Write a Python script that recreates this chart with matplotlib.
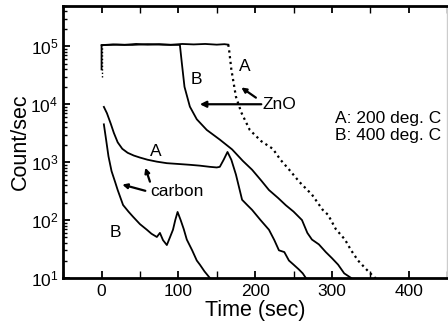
import numpy as np
import matplotlib.pyplot as plt

# ZnO, A: 200 deg. C  (flat plateau then dotted decay)
zno_a_rise_t = [0, 0]
zno_a_rise_y = [3.0e4, 1.05e5]
zno_a_flat_t = [0, 15, 30, 45, 60, 75, 90, 105, 120, 135, 150, 160, 165]
zno_a_flat_y = [1.05e5, 1.08e5, 1.06e5, 1.1e5, 1.07e5, 1.09e5, 1.06e5, 1.1e5, 1.08e5, 1.1e5, 1.07e5, 1.09e5, 1.07e5]
zno_a_decay_t = [165, 166, 169, 175, 182, 193, 208, 223, 233, 244, 258, 274, 288, 295, 305, 317, 325, 334, 345, 356, 362]
zno_a_decay_y = [1.07e5, 8.9e4, 4e4, 1.35e4, 7.2e3, 3.6e3, 2.3e3, 1.7e3, 1.1e3, 750, 450, 275, 150, 123, 70, 46, 30, 20, 14, 10, 10]

# ZnO, B: 400 deg. C
zno_b_t = [0, 0, 20, 40, 60, 80, 102, 104.5, 108, 115, 124, 137, 154, 170, 184, 196, 208, 218, 230, 240, 250, 261, 268, 274, 283, 292, 300, 308, 316, 325]
zno_b_y = [4e4, 1.05e5, 1.07e5, 1.06e5, 1.09e5, 1.07e5, 1.06e5, 5.2e4, 2.0e4, 9.1e3, 5.5e3, 3.6e3, 2.45e3, 1.66e3, 1.05e3, 740, 480, 330, 240, 180, 140, 100, 60, 46, 38, 28, 22, 17, 12, 10]

# carbon, A: 200 deg. C
carbon_a_t = [3, 7, 12, 16, 21, 27, 34, 42, 50, 60, 72, 85, 100, 115, 128, 141, 150, 154, 159, 164, 169, 175, 183, 190, 196, 207, 218, 225, 231, 238, 244, 250, 257, 262, 266]
carbon_a_y = [9e3, 7e3, 4.6e3, 3.2e3, 2.2e3, 1.7e3, 1.45e3, 1.3e3, 1.2e3, 1.1e3, 1.02e3, 960, 930, 900, 870, 830, 810, 830, 1.1e3, 1.5e3, 1.1e3, 610, 224, 180, 150, 100, 68, 45, 30, 28, 20, 17, 14, 12, 10]

# carbon, B: 400 deg. C
carbon_b_t = [3, 6, 9, 13, 18, 21, 28, 35, 41, 50, 59, 65, 72, 76, 80, 85, 89, 93, 96, 99, 103, 107, 111, 118, 124, 128, 134, 141]
carbon_b_y = [4.5e3, 2.4e3, 1.26e3, 700, 440, 330, 182, 140, 114, 85, 68, 58, 51, 60, 45, 37, 50, 68, 100, 138, 100, 70, 46, 30, 20, 17, 13, 10]

plt.rcParams['font.family'] = ['Liberation Sans', 'DejaVu Sans']
plt.rcParams['mathtext.fontset'] = 'custom'
plt.rcParams['mathtext.rm'] = 'Liberation Sans'
plt.rcParams['mathtext.it'] = 'Liberation Sans'
plt.rcParams['xtick.direction'] = 'in'
plt.rcParams['ytick.direction'] = 'in'

fig = plt.figure(figsize=(4.48, 3.27), dpi=100)
ax = fig.add_axes([0.141, 0.150, 0.857, 0.832])

lw = 1.3
ax.plot(zno_a_rise_t, zno_a_rise_y, color='k', lw=1.0, linestyle=(0, (1, 1.5)))
ax.plot(zno_a_flat_t, zno_a_flat_y, color='k', lw=lw)
ax.plot(zno_a_decay_t, zno_a_decay_y, color='k', lw=1.6, linestyle=(0, (1, 1.6)))
ax.plot(zno_b_t, zno_b_y, color='k', lw=lw)
ax.plot(carbon_a_t, carbon_a_y, color='k', lw=lw)
ax.plot(carbon_b_t, carbon_b_y, color='k', lw=lw)

ax.set_yscale('log')
ax.set_xlim(-50, 450)
ax.set_ylim(10, 5e5)
ax.set_xticks([0, 100, 200, 300, 400])
ax.set_xticks([-50, 50, 150, 250, 350, 450], minor=True)
ax.tick_params(axis='both', which='major', labelsize=12.5, width=1.3, length=5, top=True)
ax.tick_params(axis='both', which='minor', width=1.0, length=3, top=True)
ax.tick_params(axis='x', which='minor', length=5)
ax.tick_params(axis='x', which='major', pad=4)

for side in ['left', 'bottom', 'top']:
    ax.spines[side].set_linewidth(2)
ax.spines['right'].set_linewidth(1)
ax.spines['right'].set_color('#cccccc')

ax.set_xlabel("Time (sec)", fontsize=15.5, labelpad=1)
ax.set_ylabel("Count/sec", fontsize=15.5, labelpad=0)

fs = 12.5
arrow = dict(arrowstyle='-|>', color='k', lw=1.6, mutation_scale=7, shrinkA=0, shrinkB=0)
ax.text(124, 2.7e4, "B", fontsize=fs, ha='center', va='center')
ax.text(187, 4.4e4, "A", fontsize=fs, ha='center', va='center')
ax.text(209, 1.0e4, "ZnO", fontsize=fs, ha='left', va='center')
ax.annotate("", xy=(128, 1.0e4), xytext=(208, 1.0e4), arrowprops=dict(arrow, mutation_scale=9))
ax.annotate("", xy=(182, 1.95e4), xytext=(201, 1.3e4), arrowprops=arrow)

ax.text(70, 1.5e3, "A", fontsize=fs, ha='center', va='center')
ax.text(63, 3.1e2, "carbon", fontsize=fs, ha='left', va='center')
ax.annotate("", xy=(57, 8.0e2), xytext=(63, 4.6e2), arrowprops=arrow)
ax.annotate("", xy=(27, 4.1e2), xytext=(57, 3.2e2), arrowprops=arrow)
ax.text(18, 62, "B", fontsize=fs, ha='center', va='center')

ax.text(304, 5.6e3, "A: 200 deg. C", fontsize=fs, ha='left', va='center')
ax.text(304, 2.9e3, "B: 400 deg. C", fontsize=fs, ha='left', va='center')

fig.savefig("out.png", dpi=100)
